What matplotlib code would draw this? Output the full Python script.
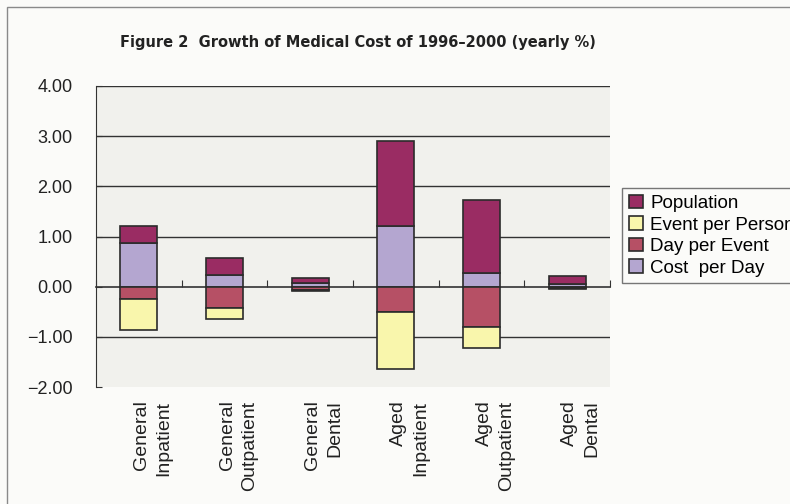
import numpy as np
import matplotlib
matplotlib.use('Agg')
import matplotlib.pyplot as plt
from matplotlib.patches import Rectangle

# Data (yearly %)
categories = ['General\nInpatient', 'General\nOutpatient', 'General\nDental',
              'Aged\nInpatient', 'Aged\nOutpatient', 'Aged\nDental']
cost_per_day = [0.88, 0.23, 0.07, 1.20, 0.28, 0.06]
day_per_event = [-0.25, -0.42, -0.06, -0.50, -0.81, -0.03]
event_per_person = [-0.62, -0.22, -0.03, -1.14, -0.41, -0.01]
population = [0.32, 0.35, 0.11, 1.70, 1.45, 0.15]

y_ticks = [-2, -1, 0, 1, 2, 3, 4]
title = 'Figure 2  Growth of Medical Cost of 1996\u20132000 (yearly %)'

plt.rcParams['font.family'] = ['Liberation Sans', 'DejaVu Sans']

fig = plt.figure(figsize=(7.9, 5.04), dpi=100, facecolor='#fbfbf9')
ax = fig.add_axes([96/790, 1 - 387/504, 514/790, 301/504])
ax.set_facecolor('#f1f1ed')

x = np.arange(len(categories))
w = 0.43
edge = dict(edgecolor='#2b2b2b', linewidth=1.2, zorder=3)

# Excel-style stacking: series order Cost, Day, Event, Population
series = [('Cost  per Day', cost_per_day, '#b4a6d0'),
          ('Day per Event', day_per_event, '#b65065'),
          ('Event per Person', event_per_person, '#f9f6ac'),
          ('Population', population, '#9a2c63')]
pos = np.zeros(len(x))
neg = np.zeros(len(x))
handles = {}
for name, vals, col in series:
    vals = np.array(vals)
    bottom = np.where(vals >= 0, pos, neg)
    b = ax.bar(x, vals, w, bottom=bottom, color=col, label=name, **edge)
    handles[name] = b
    pos = pos + np.where(vals >= 0, vals, 0)
    neg = neg + np.where(vals < 0, vals, 0)

ax.set_xlim(-0.5, len(x) - 0.5)
ax.set_ylim(-2, 4)
ax.set_yticks(y_ticks)
ax.set_yticklabels(['%.2f' % v if v >= 0 else '\u2212%.2f' % -v for v in y_ticks],
                   fontsize=13, color='#222222')
ax.tick_params(axis='y', direction='in', length=4, pad=17, color='#333333')

for v in y_ticks:
    if v not in (0, -2):
        ax.axhline(v, color='#333333', linewidth=1.0, zorder=1)

# zero line acts as category axis with tick marks between groups
ax.spines['bottom'].set_position(('data', 0))
ax.spines['bottom'].set_color('#333333')
ax.spines['bottom'].set_linewidth(1.2)
ax.spines['bottom'].set_zorder(2)
ax.set_xticks(np.arange(len(x) + 1) - 0.5)
ax.set_xticklabels([])
ax.tick_params(axis='x', direction='in', length=5, color='#333333')
ax.spines['top'].set_visible(False)
ax.spines['right'].set_visible(False)
ax.spines['left'].set_color('#333333')

for xi, lab in zip(x, categories):
    ax.text(xi + 0.16, -0.045, lab, transform=ax.get_xaxis_transform(), rotation=90,
            ha='center', va='top', multialignment='right', fontsize=14,
            color='#222222', linespacing=1.4)

fig.text(120/790, 1 - 42/504, title, ha='left', va='center', fontsize=11.7,
         fontweight='bold', fontstretch='condensed', color='#222222',
         family=['DejaVu Sans'])

order = ['Population', 'Event per Person', 'Day per Event', 'Cost  per Day']
leg = fig.legend([handles[n] for n in order], order,
                 loc='upper left', bbox_to_anchor=(622/790, 1 - 188/504),
                 fontsize=13.5, frameon=True, fancybox=False,
                 handlelength=0.75, handleheight=0.75, handletextpad=0.4,
                 labelspacing=0.22, borderpad=0.35, borderaxespad=0)
leg.get_frame().set_edgecolor('#555555')
leg.get_frame().set_facecolor('#fbfbf9')
leg.get_frame().set_linewidth(1.0)

# outer chart frame
fig.patches.append(Rectangle((7/790, -0.1), 1.2, 1.1 - 7/504, transform=fig.transFigure,
                             fill=False, edgecolor='#8a8a8a', linewidth=1.0))

fig.savefig('out.png', dpi=100, facecolor=fig.get_facecolor())
